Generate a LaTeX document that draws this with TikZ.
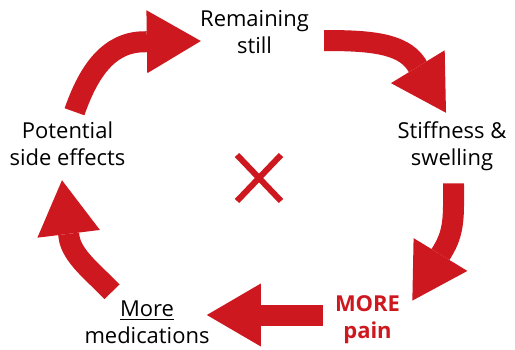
\documentclass[tikz,border=0pt]{standalone}
\usepackage{fontspec}
\setmainfont{Open Sans}
\usepackage{tikz}
\usetikzlibrary{arrows.meta}
\definecolor{cycred}{RGB}{204,24,30}

\begin{document}
\begin{tikzpicture}[x=0.02cm, y=-0.02cm,
    lbl/.style={align=center, inner sep=0pt, font=\fontsize{12.5}{15.3}\selectfont},
    cycarrow/.style={cycred, line width=0.42cm, -{Triangle[length=1.08cm, width=1.26cm, line width=0pt]}},
    xmark/.style={cycred, line width=0.12cm}]
      \useasboundingbox (0,0) rectangle (515,349);
      % Stage labels
      \node[lbl] (rem) at (254.5,32) {Remaining\\still};
      \node[lbl] (stiff) at (452,146.6) {Stiffness \&\\swelling};
      \node[lbl, text=cycred, font=\fontsize{12.5}{15.3}\selectfont\bfseries] (pain) at (367.5,319.5) {MORE\\pain};
      \node[lbl] (med) at (147,322) {\underline{More}\\medications};
      \node[lbl] (pot) at (67.5,144) {Potential\\side effects};
      % Cycle arrows
      \draw[cycarrow] ([shift={(7,-10)}]pot.north) .. controls +(14,-40) and +(-36,0) .. ++(70,-70) -- ([shift={(1,9)}]rem.west);
      \draw[cycarrow] ([shift={(15,8.5)}]rem.east) .. controls +(45,0) and +(-14,-21) .. ++(92,23.5) -- ([shift={(-6,-9)}]stiff.north);
      \draw[cycarrow] ([shift={(1.5,12)}]stiff.south) .. controls +(0,32) and +(13,-21) .. ++(-11.5,68.6) -- ([shift={(12,5.5)}]pain.north east);
      \draw[cycarrow] ([shift={(-12,-4.5)}]pain.west) -- ([shift={(-3,-7)}]med.east);
      \draw[cycarrow] ([shift={(-35,-8.5)}]med.north) .. controls +(-17,-18) and +(2.4,19.5) .. ++(-43,-55) -- ([shift={(-5.5,14)}]pot.south);
      % Centre cross
      \coordinate (mid) at (259,178);
      \draw[xmark] (mid) ++(-22,-23) -- ++(44,46);
      \draw[xmark] (mid) ++(22,-23) -- ++(-44,46);
    \end{tikzpicture}
\end{document}
